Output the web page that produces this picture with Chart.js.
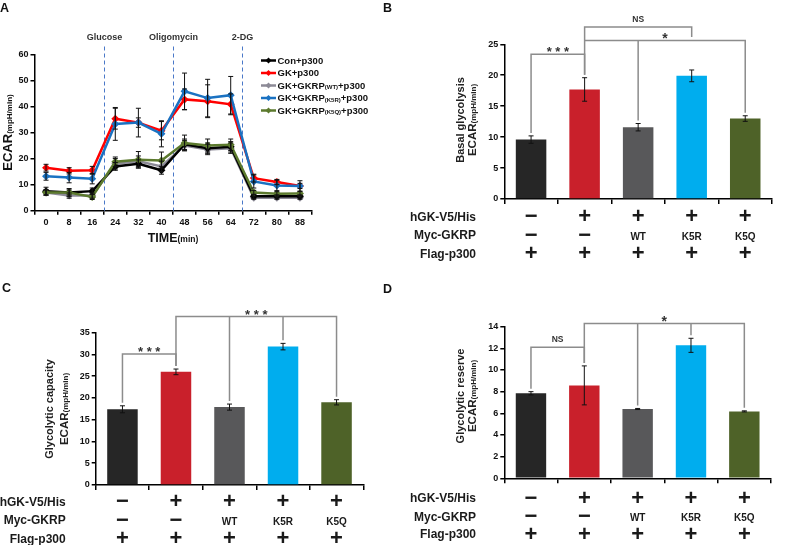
<!DOCTYPE html>
<html>
<head>
<meta charset="utf-8">
<script src="https://cdn.jsdelivr.net/npm/chart.js@4.4.1/dist/chart.umd.min.js"></script>
<style>
  html, body { margin: 0; padding: 0; background: #fff; }
  #page { position: relative; width: 787px; height: 545px; overflow: hidden; }
  canvas { position: absolute; }
</style>
</head>
<body>
<div id="page">
  <canvas id="chartA" width="380" height="270" style="left:0;top:0"></canvas>
  <canvas id="chartB" width="407" height="270" style="left:380px;top:0"></canvas>
  <canvas id="chartC" width="380" height="275" style="left:0;top:270px"></canvas>
  <canvas id="chartD" width="407" height="275" style="left:380px;top:270px"></canvas>
</div>
<script>
const FONT = 'Arial, "Liberation Sans", Helvetica, sans-serif';

// ---------- Panel A : ECAR time course ----------
const timeLabels = ['0', '8', '16', '24', '32', '40', '48', '56', '64', '72', '80', '88'];
const injections = ['Glucose', 'Oligomycin', '2-DG'];
const injectionAfter = [2, 5, 8]; // injection happens between this time point and the next

const seriesNames = ['Con+p300', 'GK+p300', 'GK+GKRP(WT)+p300', 'GK+GKRP(K5R)+p300', 'GK+GKRP(K5Q)+p300'];
const conP300 = [7.5, 7.0, 7.5, 17.0, 18.0, 15.5, 25.5, 24.0, 24.5, 5.5, 5.5, 5.5];
const gkP300  = [16.5, 15.3, 15.5, 35.3, 33.8, 30.7, 42.7, 42.0, 40.8, 12.5, 11.0, 9.5];
const wtP300  = [7.0, 5.8, 5.8, 18.0, 19.0, 17.0, 25.0, 23.5, 24.0, 5.0, 5.0, 5.0];
const k5rP300 = [13.2, 12.7, 12.3, 33.3, 33.8, 29.5, 45.8, 43.2, 44.3, 11.2, 9.7, 9.5];
const k5qP300 = [7.0, 7.0, 5.3, 18.8, 19.5, 19.3, 26.0, 25.0, 25.3, 7.0, 6.5, 6.6];

const conErr = [1.5, 1.5, 1.2, 1.5, 1.5, 1.5, 2.0, 2.0, 2.0, 0.8, 0.6, 0.6];
const gkErr  = [1.3, 1.2, 1.5, 4.0, 1.8, 3.5, 4.0, 6.3, 4.0, 1.5, 1.0, 1.0];
const wtErr  = [1.0, 1.0, 1.0, 2.0, 2.0, 2.0, 2.0, 2.0, 2.0, 0.6, 0.6, 0.6];
const k5rErr = [1.5, 2.0, 2.0, 6.3, 5.5, 5.0, 7.0, 7.2, 7.2, 2.5, 2.0, 2.0];
const k5qErr = [1.0, 1.0, 1.0, 1.8, 3.2, 3.2, 3.0, 2.5, 2.2, 0.8, 0.8, 0.8];

const seriesData = [conP300, gkP300, wtP300, k5rP300, k5qP300];
const seriesErr = [conErr, gkErr, wtErr, k5rErr, k5qErr];
const seriesColors = ['#000000', '#ff0000', '#8c8a96', '#1a72c2', '#5c7a2e'];
const seriesOrder = [3, 2, 4, 1, 0];

// ---------- Panels B, C, D : bar charts ----------
const groups = ['Con', 'GK', 'GK+WT', 'GK+K5R', 'GK+K5Q'];
const rowNames = ['hGK-V5/His', 'Myc-GKRP', 'Flag-p300'];
const hgkRow  = ['\u2212', '+', '+', '+', '+'];
const mycRow  = ['\u2212', '\u2212', 'WT', 'K5R', 'K5Q'];
const flagRow = ['+', '+', '+', '+', '+'];
const barColors = ['#262626', '#c9202b', '#58585a', '#00adee', '#4e6228'];

const basalMean = [9.6, 17.7, 11.6, 19.9, 13.0];
const basalErr  = [0.6, 1.9, 0.6, 0.95, 0.45];
const basalSig  = [
  { from: 0, to: 1, level: 23.4, text: '* * *', legs: [0, 1] },
  { from: 1, to: 3, level: 27.8, text: 'NS', legs: [1, 3], short: [3] },
  { from: 1, to: 4, level: 25.6, text: '*', legs: [2, 4] }
];

const capacityMean = [17.4, 26.0, 17.9, 31.8, 19.0];
const capacityErr  = [0.8, 0.65, 0.7, 0.75, 0.6];
const capacitySig  = [
  { from: 0, to: 1, level: 30.1, text: '* * *', legs: [0, 1] },
  { from: 1, to: 4, level: 38.7, text: '* * *', legs: [1, 2, 3, 4] }
];

const reserveMean = [7.85, 8.58, 6.4, 12.28, 6.18];
const reserveErr  = [0.15, 1.8, 0.05, 0.65, 0.05];
const reserveSig  = [
  { from: 0, to: 1, level: 12.1, text: 'NS', legs: [0, 1] },
  { from: 1, to: 4, level: 14.3, text: '*', legs: [1, 2, 3, 4] }
];

// ---------- helpers ----------
function richText(ctx, parts, x, y, align) {
  let w = 0;
  parts.forEach(p => {
    ctx.font = `bold ${p.size}px ${FONT}`;
    p.w = ctx.measureText(p.text).width;
    w += p.w;
  });
  let cx = align === 'center' ? x - w / 2 : (align === 'right' ? x - w : x);
  ctx.textAlign = 'left';
  ctx.textBaseline = 'alphabetic';
  parts.forEach(p => {
    ctx.font = `bold ${p.size}px ${FONT}`;
    ctx.fillText(p.text, cx, y + (p.dy || 0));
    cx += p.w;
  });
}

function panelLetter(ctx, letter, x, y) {
  ctx.save();
  ctx.fillStyle = '#111';
  ctx.font = `bold 12.5px ${FONT}`;
  ctx.textAlign = 'left';
  ctx.textBaseline = 'top';
  ctx.fillText(letter, x, y);
  ctx.restore();
}

function errorBar(ctx, x, yTop, yBot, half) {
  ctx.moveTo(x, yTop); ctx.lineTo(x, yBot);
  ctx.moveTo(x - half, yTop); ctx.lineTo(x + half, yTop);
  ctx.moveTo(x - half, yBot); ctx.lineTo(x + half, yBot);
}

function splitName(name) {
  return name.split(/(\([A-Z0-9]+\))/).filter(s => s).map(s =>
    s.startsWith('(') ? { text: s, size: 6, dy: 0.5 } : { text: s, size: 9.5 });
}

// ---------- Panel A chart ----------
const timeCoursePlugin = {
  id: 'timeCourse',
  beforeDatasetsDraw(chart) {
    const { ctx, chartArea, scales: { x } } = chart;
    ctx.save();
    ctx.strokeStyle = '#4a78c8';
    ctx.lineWidth = 1;
    ctx.setLineDash([4, 3]);
    injectionAfter.forEach((i, k) => {
      const px = Math.round((x.getPixelForValue(i) + x.getPixelForValue(i + 1)) / 2) + 0.5;
      ctx.beginPath();
      ctx.moveTo(px, 46.5);
      ctx.lineTo(px, chartArea.bottom);
      ctx.stroke();
      ctx.fillStyle = '#333';
      ctx.font = `bold 9px ${FONT}`;
      ctx.textAlign = 'center';
      ctx.textBaseline = 'middle';
      ctx.fillText(injections[k], px, 37.5);
    });
    ctx.restore();
  },
  afterDatasetsDraw(chart) {
    const { ctx, scales: { x, y } } = chart;
    ctx.save();
    ctx.strokeStyle = '#111';
    ctx.lineWidth = 1;
    ctx.beginPath();
    seriesData.forEach((d, s) => {
      d.forEach((v, i) => {
        const px = x.getPixelForValue(i);
        errorBar(ctx, px, y.getPixelForValue(v + seriesErr[s][i]), y.getPixelForValue(v - seriesErr[s][i]), 2.5);
      });
    });
    ctx.stroke();
    ctx.restore();
  },
  afterDraw(chart) {
    const { ctx, chartArea } = chart;
    ctx.save();
    ctx.fillStyle = '#111';
    // legend
    seriesNames.forEach((name, i) => {
      const ly = 60.5 + i * 12.5;
      ctx.strokeStyle = seriesColors[i];
      ctx.lineWidth = 2.5;
      ctx.beginPath();
      ctx.moveTo(261, ly); ctx.lineTo(276, ly);
      ctx.stroke();
      ctx.fillStyle = seriesColors[i];
      ctx.beginPath();
      ctx.moveTo(268.5, ly - 3); ctx.lineTo(271.5, ly); ctx.lineTo(268.5, ly + 3); ctx.lineTo(265.5, ly);
      ctx.closePath();
      ctx.fill();
      ctx.fillStyle = '#111';
      richText(ctx, splitName(name), 277.5, ly + 3.4, 'left');
    });
    // axis titles
    const cx = (chartArea.left + chartArea.right) / 2;
    richText(ctx, [{ text: 'TIME', size: 12.5 }, { text: '(min)', size: 8.5 }], cx, 241.5, 'center');
    ctx.translate(12, (chartArea.top + chartArea.bottom) / 2);
    ctx.rotate(-Math.PI / 2);
    richText(ctx, [{ text: 'ECAR', size: 13 }, { text: '(mpH/min)', size: 8 }], 0, 0, 'center');
    ctx.restore();
    panelLetter(ctx, 'A', 0, 2);
  }
};

new Chart(document.getElementById('chartA'), {
  type: 'line',
  data: {
    labels: timeLabels,
    datasets: seriesData.map((d, i) => ({
      label: seriesNames[i],
      data: d,
      borderColor: seriesColors[i],
      backgroundColor: seriesColors[i],
      borderWidth: 2.5,
      pointStyle: 'rectRot',
      pointRadius: 4,
      pointBorderWidth: 0,
      tension: 0,
      fill: false,
      order: seriesOrder[i]
    }))
  },
  options: {
    responsive: false,
    animation: false,
    devicePixelRatio: 1,
    layout: { padding: { left: 4.5, right: 68.5, top: 54.3, bottom: 39.3 } },
    plugins: { legend: { display: false }, tooltip: { enabled: false } },
    scales: {
      x: {
        offset: true,
        grid: { offset: true, drawOnChartArea: false, tickLength: 4, color: '#000', lineWidth: 1.5 },
        border: { color: '#000', width: 1.5 },
        ticks: { font: { family: FONT, size: 9, weight: 'bold' }, color: '#111', padding: 2, maxRotation: 0 },
        afterFit: s => { s.height = 20; }
      },
      y: {
        min: 0, max: 60,
        ticks: { stepSize: 10, font: { family: FONT, size: 9, weight: 'bold' }, color: '#111', padding: 2 },
        grid: { drawOnChartArea: false, tickLength: 4, color: '#000', lineWidth: 1.5 },
        border: { color: '#000', width: 1.5 },
        afterFit: s => { s.width = 30; }
      }
    }
  },
  plugins: [timeCoursePlugin]
});

// ---------- bar panels ----------
function barPanelPlugin(cfg) {
  return {
    id: 'barPanel' + cfg.letter,
    afterDraw(chart) {
      const { ctx, scales: { x, y } } = chart;
      ctx.save();
      // error bars
      ctx.strokeStyle = '#111';
      ctx.lineWidth = 1;
      ctx.beginPath();
      cfg.mean.forEach((v, i) => {
        errorBar(ctx, x.getPixelForValue(i), y.getPixelForValue(v + cfg.err[i]), y.getPixelForValue(v - cfg.err[i]), 2.5);
      });
      ctx.stroke();
      // significance brackets
      ctx.strokeStyle = '#8c8c8c';
      ctx.lineWidth = 1.5;
      cfg.sig.forEach(b => {
        const yy = y.getPixelForValue(b.level);
        const x1 = x.getPixelForValue(b.from), x2 = x.getPixelForValue(b.to);
        ctx.beginPath();
        ctx.moveTo(x1, yy); ctx.lineTo(x2, yy);
        b.legs.forEach(i => {
          const xi = x.getPixelForValue(i);
          const end = (b.short && b.short.includes(i)) ? yy + 10
            : y.getPixelForValue(cfg.mean[i] + cfg.err[i]) - 3;
          ctx.moveTo(xi, yy - 0.75); ctx.lineTo(xi, end);
        });
        ctx.stroke();
        const mx = (x1 + x2) / 2;
        ctx.fillStyle = '#333';
        ctx.textAlign = 'center';
        if (b.text === 'NS') {
          ctx.font = `bold 8.5px ${FONT}`;
          ctx.textBaseline = 'middle';
          ctx.fillText(b.text, mx, yy - 7.5);
        } else {
          const size = b.text === '*' ? 14 : 13;
          ctx.font = `bold ${size}px ${FONT}`;
          ctx.textBaseline = 'alphabetic';
          ctx.fillText(b.text, mx, yy - 5.5 + 0.585 * size);
        }
      });
      // y title (two lines)
      ctx.fillStyle = '#222';
      ctx.save();
      ctx.translate(cfg.titleX[0], cfg.titleY);
      ctx.rotate(-Math.PI / 2);
      richText(ctx, [{ text: cfg.title, size: 11 }], 0, 0, 'center');
      ctx.restore();
      ctx.save();
      ctx.translate(cfg.titleX[1], cfg.titleY);
      ctx.rotate(-Math.PI / 2);
      richText(ctx, [{ text: 'ECAR', size: 11.5 }, { text: '(mpH/min)', size: 8 }], 0, 0, 'center');
      ctx.restore();
      // condition table
      [hgkRow, mycRow, flagRow].forEach((row, r) => {
        const ry = cfg.rowY[r];
        ctx.fillStyle = '#1a1a1a';
        ctx.textBaseline = 'middle';
        ctx.textAlign = 'right';
        ctx.font = `bold 12px ${FONT}`;
        ctx.fillText(rowNames[r], cfg.labelRight, ry);
        ctx.textAlign = 'center';
        row.forEach((s, i) => {
          const sign = s === '+' || s === '\u2212';
          ctx.font = sign ? `bold 22px ${FONT}` : `bold 10px ${FONT}`;
          ctx.fillText(s, x.getPixelForValue(i), sign ? ry : ry + 1);
        });
      });
      ctx.restore();
      panelLetter(ctx, cfg.letter, cfg.letterPos[0], cfg.letterPos[1]);
    }
  };
}

function makeBarPanel(id, cfg) {
  new Chart(document.getElementById(id), {
    type: 'bar',
    data: {
      labels: groups,
      datasets: [{
        data: cfg.mean,
        backgroundColor: barColors,
        borderWidth: 0,
        barPercentage: 0.57,
        categoryPercentage: 1
      }]
    },
    options: {
      responsive: false,
      animation: false,
      devicePixelRatio: 1,
      layout: { padding: cfg.pad },
      plugins: { legend: { display: false }, tooltip: { enabled: false } },
      scales: {
        x: {
          grid: { offset: true, drawOnChartArea: false, tickLength: 5, color: '#000', lineWidth: 1.5 },
          border: { color: '#000', width: 1.5 },
          ticks: { display: false },
          afterFit: s => { s.height = 10; }
        },
        y: {
          min: 0, max: cfg.max,
          ticks: { stepSize: cfg.step, font: { family: FONT, size: 9, weight: 'bold' }, color: '#111', padding: 2 },
          grid: { drawOnChartArea: false, tickLength: 4, color: '#000', lineWidth: 1.5 },
          border: { color: '#000', width: 1.5 },
          afterFit: s => { s.width = 30; }
        }
      }
    },
    plugins: [barPanelPlugin(cfg)]
  });
}

makeBarPanel('chartB', {
  letter: 'B', letterPos: [3, 2],
  mean: basalMean, err: basalErr, sig: basalSig, max: 25, step: 5,
  title: 'Basal glycolysis', titleX: [84, 96], titleY: 120,
  pad: { left: 94.3, right: 15, top: 44.3, bottom: 61 },
  labelRight: 96, rowY: [217.3, 236, 254.3]
});

makeBarPanel('chartC', {
  letter: 'C', letterPos: [2, 12],
  mean: capacityMean, err: capacityErr, sig: capacitySig, max: 35, step: 5,
  title: 'Glycolytic capacity', titleX: [53, 67.5], titleY: 139,
  pad: { left: 65.7, right: 16.7, top: 62.7, bottom: 50 },
  labelRight: 65.7, rowY: [232.3, 251, 269.3]
});

makeBarPanel('chartD', {
  letter: 'D', letterPos: [3, 13],
  mean: reserveMean, err: reserveErr, sig: reserveSig, max: 14, step: 2,
  title: 'Glycolytic reserve', titleX: [84, 96], titleY: 126,
  pad: { left: 94.3, right: 16, top: 56.7, bottom: 56.7 },
  labelRight: 96, rowY: [229, 247.3, 265]
});
</script>
</body>
</html>
